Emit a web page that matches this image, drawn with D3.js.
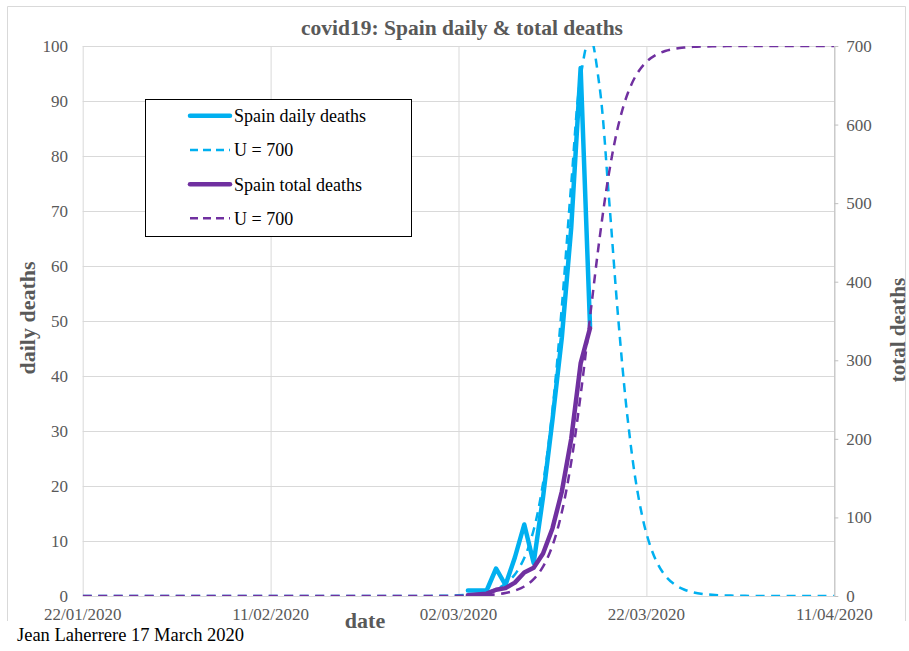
<!DOCTYPE html>
<html><head><meta charset="utf-8">
<script src="https://cdn.jsdelivr.net/npm/d3@7"></script>
<style>
body{margin:0;background:#fff}
svg{display:block}
text{font-family:"Liberation Serif","Times New Roman",serif}
</style>
</head><body>
<svg id="c" width="909" height="651"></svg>
<script>
// ---------- data ----------
const actualDates = ["2020-03-03","2020-03-04","2020-03-05","2020-03-06","2020-03-07","2020-03-08","2020-03-09",
                     "2020-03-10","2020-03-11","2020-03-12","2020-03-13","2020-03-14","2020-03-15","2020-03-16"];
const dailyDeaths = [1,1,1,5,2,7,13,6,18,32,47,67,96,49];
const totalDeaths = [1,2,3,8,10,17,30,36,54,86,133,200,296,341];

const modelStart = "2020-01-22";   // one value per day up to 11/04/2020
const modelDaily = [
  0,0,0,0,0,0,0,0,0,0, 0,0,0,0,0,0,0,0,0,0, 0,0,0,0,0,0,0,0,0,0, 0,0,0,0,0,0,0,
  0.02,0.04,0.07,0.12,0.22,0.39,0.70,1.24,2.22,3.92,6.91,12.0,20.5,33.8,52.6,74.9,94.4,
  101.7,92.8,72.7,50.5,32.3,19.5,11.4,6.55,3.70,2.09,1.18,0.66,0.37,0.21,0.12,0.07,0.04,0.02,
  0,0,0,0,0,0,0,0,0
];
const modelTotal = [
  0,0,0,0,0,0,0,0,0,0, 0,0,0,0,0,0,0,0,0,0, 0,0,0,0,0,0,0,0,0,0, 0,0,0,0,0,
  0.01,0.02,0.04,0.07,0.12,0.21,0.38,0.67,1.20,2.14,3.83,6.82,12.1,21.4,37.3,64.0,106.8,170.4,255.8,
  355.1,453.6,536.9,598.4,639.3,664.7,679.8,688.6,693.6,696.4,698.0,698.9,699.4,699.6,699.8,699.9,
  700,700,700,700,700,700,700,700,700,700,700
];

const xTickDates = ["2020-01-22","2020-02-11","2020-03-02","2020-03-22","2020-04-11"];
const leftTicks = [0,10,20,30,40,50,60,70,80,90,100];
const rightTicks = [0,100,200,300,400,500,600,700];
const legendLabels = ["Spain daily deaths","U = 700","Spain total deaths","U = 700"];
const titleText = "covid19: Spain daily & total deaths";
const creditText = "Jean Laherrere 17 March 2020";

// ---------- setup ----------
const FONT = '"Liberation Serif","Times New Roman",serif';
const parse = d3.utcParse("%Y-%m-%d");
const fmt = d3.utcFormat("%d/%m/%Y");
const svg = d3.select("#c");
const BLUE = "#00B0F0", PURPLE = "#7030A0", GRID = "#d9d9d9", TXT = "#595959";

const L = 82.7, R = 834.3, T = 46, B = 596;
const x = d3.scaleUtc().domain([parse("2020-01-22"), parse("2020-04-11")]).range([L, R]);
const yL = d3.scaleLinear().domain([0,100]).range([B, T]);
const yR = d3.scaleLinear().domain([0,700]).range([B, T]);

// outer chart frame
svg.append("path").attr("d", `M7.5,621 V6.5 H905.5 V621`).attr("fill","none").attr("stroke",GRID).attr("stroke-width",1);

// clip
svg.append("defs").append("clipPath").attr("id","pa")
  .append("rect").attr("x",L).attr("y",T).attr("width",R-L).attr("height",B-T);

// horizontal gridlines via left axis
const gy = svg.append("g").attr("transform",`translate(${L},0)`)
  .call(d3.axisLeft(yL).tickValues(leftTicks).tickSize(-(R-L)).tickFormat(""));
gy.select(".domain").remove();
gy.selectAll("line").attr("stroke",GRID).attr("stroke-width",1);

// vertical gridlines via bottom axis
const gx = svg.append("g").attr("transform",`translate(0,${B})`)
  .call(d3.axisBottom(x).tickValues(xTickDates.map(parse)).tickSize(-(B-T)).tickFormat(""));
gx.select(".domain").remove();
gx.selectAll("line").attr("stroke",GRID).attr("stroke-width",1);

// left tick labels
svg.append("g").selectAll("text").data(leftTicks).join("text")
  .attr("x",68).attr("y",d=>yL(d)).attr("dy","0.35em").attr("text-anchor","end")
  .attr("font-family",FONT).attr("font-size",17).attr("fill",TXT).text(d=>d);

// right axis
const ar = svg.append("g").attr("transform",`translate(${R},0)`)
  .call(d3.axisRight(yR).tickValues(rightTicks).tickSize(4).tickPadding(8).tickSizeOuter(0));
ar.attr("font-family",FONT);
ar.select(".domain").attr("stroke","#bfbfbf");
ar.selectAll("line").attr("stroke","#bfbfbf");
ar.selectAll("text").attr("font-size",17).attr("fill",TXT).attr("font-family",FONT);

// bottom date labels
svg.append("g").selectAll("text").data(xTickDates).join("text")
  .attr("x",d=>x(parse(d))).attr("y",620).attr("text-anchor","middle")
  .attr("font-family",FONT).attr("font-size",17).attr("fill",TXT).text(d=>fmt(parse(d)));

// ---------- series ----------
const plot = svg.append("g").attr("clip-path","url(#pa)");
const day = i => d3.utcDay.offset(parse(modelStart), i);

const lineDaily = d3.line().x((d,i)=>x(parse(actualDates[i]))).y(d=>yL(d));
const lineTotal = d3.line().x((d,i)=>x(parse(actualDates[i]))).y(d=>yR(d));
const lineMD = d3.line().x((d,i)=>x(day(i))).y(d=>yL(d)).curve(d3.curveCatmullRom.alpha(0.5));
const lineMT = d3.line().x((d,i)=>x(day(i))).y(d=>yR(d)).curve(d3.curveCatmullRom.alpha(0.5));

plot.append("path").attr("d",lineDaily(dailyDeaths)).attr("fill","none").attr("stroke",BLUE)
  .attr("stroke-width",4.5).attr("stroke-linejoin","round").attr("stroke-linecap","round");
plot.append("path").attr("d",lineMD(modelDaily)).attr("fill","none").attr("stroke",BLUE)
  .attr("stroke-width",2.5).attr("stroke-dasharray","9,6.5");
plot.append("path").attr("d",lineTotal(totalDeaths)).attr("fill","none").attr("stroke",PURPLE)
  .attr("stroke-width",4.5).attr("stroke-linejoin","round").attr("stroke-linecap","round");
plot.append("path").attr("d",lineMT(modelTotal)).attr("fill","none").attr("stroke",PURPLE)
  .attr("stroke-width",2.5).attr("stroke-dasharray","9,6.5");

// ---------- titles ----------
svg.append("text").attr("x",462).attr("y",35).attr("text-anchor","middle").attr("font-family",FONT)
  .attr("font-size",21.5).attr("font-weight","bold").attr("fill",TXT).text(titleText);
svg.append("text").attr("transform","translate(35,318) rotate(-90)").attr("text-anchor","middle").attr("font-family",FONT)
  .attr("font-size",22).attr("font-weight","bold").attr("fill",TXT).text("daily deaths");
svg.append("text").attr("transform","translate(905,330) rotate(-90)").attr("text-anchor","middle").attr("font-family",FONT)
  .attr("font-size",21).attr("font-weight","bold").attr("fill",TXT).text("total deaths");
svg.append("text").attr("x",365).attr("y",628).attr("text-anchor","middle").attr("font-family",FONT)
  .attr("font-size",22).attr("font-weight","bold").attr("fill",TXT).text("date");
svg.append("text").attr("x",17).attr("y",641).attr("font-family",FONT)
  .attr("font-size",18.5).attr("fill","#000").text(creditText);

// ---------- legend ----------
const lg = svg.append("g");
lg.append("rect").attr("x",145.5).attr("y",99.5).attr("width",266).attr("height",137)
  .attr("fill","#fff").attr("stroke","#000").attr("stroke-width",1);
const legStyle = [
  {c:BLUE, w:4.5, dash:null},
  {c:BLUE, w:2.5, dash:"8,5"},
  {c:PURPLE, w:4.5, dash:null},
  {c:PURPLE, w:2.5, dash:"8,5"}
];
const rowY = [115.7,150,184.3,218.3];
legendLabels.forEach((lab,i)=>{
  const s = legStyle[i];
  lg.append("line").attr("x1",190).attr("x2",230).attr("y1",rowY[i]).attr("y2",rowY[i])
    .attr("stroke",s.c).attr("stroke-width",s.w).attr("stroke-dasharray",s.dash)
    .attr("stroke-linecap", s.dash ? "butt" : "round");
  lg.append("text").attr("x",234).attr("y",rowY[i]).attr("dy","0.35em").attr("font-family",FONT)
    .attr("font-size",18).attr("fill","#000").text(lab);
});
</script>
</body></html>
